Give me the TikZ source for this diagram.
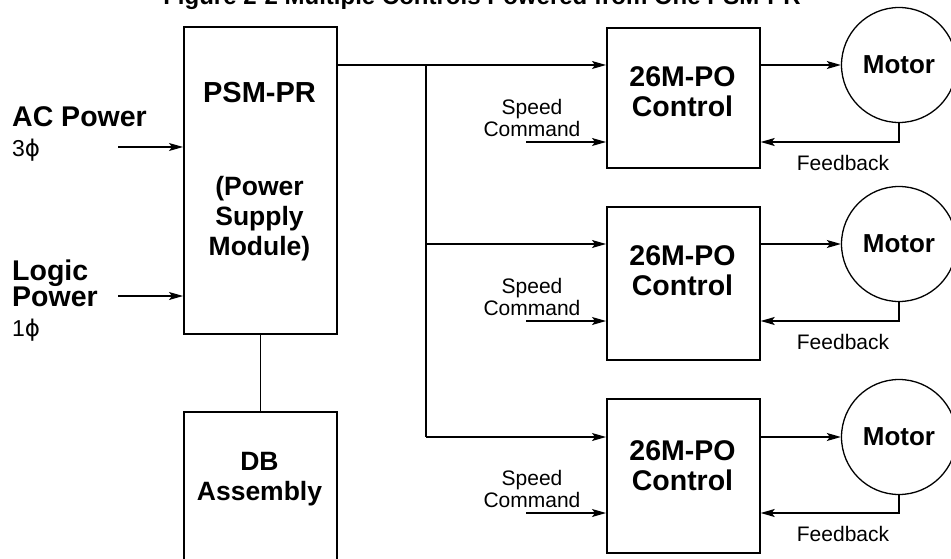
\documentclass[tikz,border=0pt]{standalone}
\usepackage{fontspec}
\setmainfont{Liberation Sans}
\newfontfamily\djv{DejaVu Sans}
\usetikzlibrary{arrows.meta}
\tikzset{
  box/.style={draw, line width=1.7pt, inner sep=0pt, anchor=north west},
  motor/.style={draw, circle, line width=1.3pt, minimum size=115pt, inner sep=0pt,
    font=\fontsize{26}{26}\selectfont\bfseries},
  conn/.style={line width=1.2pt},
  arr/.style={conn, -{Stealth[length=14pt,width=8pt,inset=3pt]}},
  big/.style={font=\fontsize{28.5}{30}\selectfont\bfseries, align=center, inner sep=0pt},
  mid/.style={font=\fontsize{26.5}{30}\selectfont\bfseries, align=center, inner sep=0pt},
  side/.style={font=\fontsize{28.5}{26}\selectfont\bfseries, align=left, inner sep=0pt},
  phase/.style={font=\fontsize{23}{23}\selectfont, anchor=base west, inner sep=0pt},
  small/.style={font=\fontsize{21}{22}\selectfont, align=center, inner sep=0pt},
}
\begin{document}
\begin{tikzpicture}[x=1pt,y=-1pt]
\clip (0,0) rectangle (951,559);
\fill[white] (0,0) rectangle (951,559);
% title (cut off by the top edge)
\node[font=\fontsize{24}{24}\selectfont\bfseries, anchor=base, inner sep=0pt] (title) at (482,5)
  {Figure 2-2 Multiple Controls Powered from One PSM-PR};
% left blocks
\node[box, minimum width=153pt, minimum height=307pt] (psm) at (183,26) {};
\node[box, minimum width=153pt, minimum height=170pt] (db) at (183,411) {};
\draw[conn] (psm.south) -- (db.north);
\node[big, font=\fontsize{29}{30}\selectfont\bfseries] (psmt) at (259.5,93) {PSM-PR};
\node[mid] (psmd) at (259.5,219) {(Power\\Supply\\Module)};
\node[mid] (dbt) at (259.5,479) {DB\\Assembly};
% left labels
\node[side, anchor=base west] (acp) at (12,127) {AC Power};
\node[phase] (ph3) at (12,157) {3{\djv ϕ}};
\node[side, anchor=north west] (lp) at (12,260) {Logic\\Power};
\node[phase] (ph1) at (12,336) {1{\djv ϕ}};
\coordinate (ac) at (118,147);
\coordinate (lg) at (118,296);
\draw[arr] (ac) -- (psm.west |- ac);
\draw[arr] (lg) -- (psm.west |- lg);
% controls
\node[box, minimum width=153pt, minimum height=140pt] (c1) at (606,27) {};
\node[box, minimum width=153pt, minimum height=153pt] (c2) at (606,206) {};
\node[box, minimum width=153pt, minimum height=154pt] (c3) at (606,398) {};
\node[big] (c1t) at (682.5,92) {26M-PO\\Control};
\node[big] (c2t) at (682.5,271) {26M-PO\\Control};
\node[big] (c3t) at (682.5,466) {26M-PO\\Control};
% motors
\node[motor] (m1) at (899,65) {Motor};
\node[motor] (m2) at (899,244) {Motor};
\node[motor] (m3) at (899,437) {Motor};
% bus
\coordinate (j1) at (426,65);
\coordinate (j2) at (426,244);
\coordinate (j3) at (426,437);
\draw[conn] (psm.east |- j1) -- (j1);
\draw[conn] (j1) -- (j3);
\draw[arr] (j1) -- (c1.west |- j1);
\draw[arr] (j2) -- (c2.west |- j2);
\draw[arr] (j3) -- (c3.west |- j3);
% control to motor
\draw[arr] (c1.east |- m1) -- (m1.west);
\draw[arr] (c2.east |- m2) -- (m2.west);
\draw[arr] (c3.east |- m3) -- (m3.west);
% speed commands
\coordinate (s1) at (526,142);
\coordinate (s2) at (526,321);
\coordinate (s3) at (526,513);
\draw[arr] (s1) -- (c1.west |- s1);
\draw[arr] (s2) -- (c2.west |- s2);
\draw[arr] (s3) -- (c3.west |- s3);
\node[small] (sc1) at (532,118) {Speed\\Command};
\node[small] (sc2) at (532,297) {Speed\\Command};
\node[small] (sc3) at (532,489) {Speed\\Command};
% feedback
\draw[arr] (m1.south) |- (c1.east |- s1);
\draw[arr] (m2.south) |- (c2.east |- s2);
\draw[arr] (m3.south) |- (c3.east |- s3);
\node[small] (fb1) at (843,163) {Feedback};
\node[small] (fb2) at (843,342) {Feedback};
\node[small] (fb3) at (843,534) {Feedback};
\end{tikzpicture}
\end{document}
